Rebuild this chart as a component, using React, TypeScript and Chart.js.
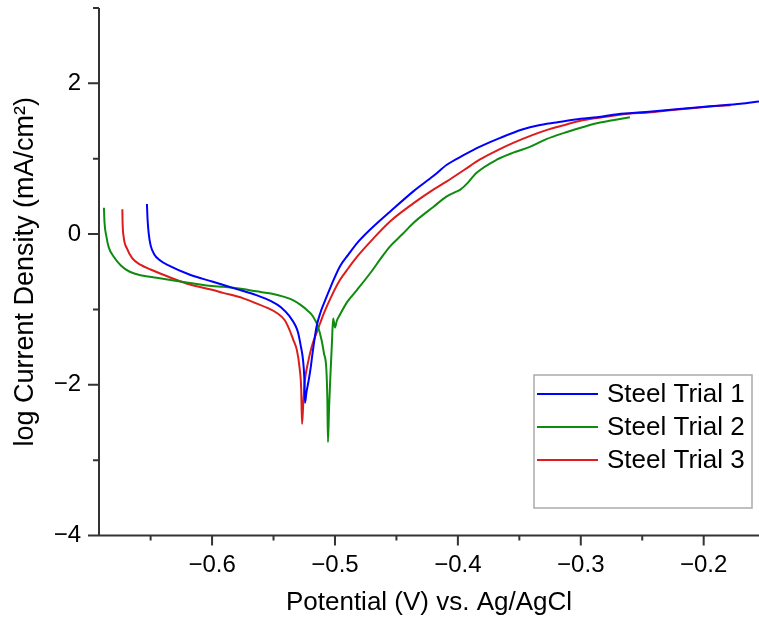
import React, { useEffect, useRef } from 'react';
import { Chart, registerables } from 'chart.js';

Chart.register(...registerables);

// ---------- data ----------
const seriesLabels = ['Steel Trial 1', 'Steel Trial 2', 'Steel Trial 3'];
const seriesColors = ['#0000ff', '#0f8c0f', '#dd1c1c'];

const trial1Potential = [
  -0.653, -0.6525, -0.6515, -0.65, -0.647, -0.643, -0.635, -0.618, -0.6, -0.58, -0.564, -0.552,
  -0.544, -0.537, -0.532, -0.53, -0.528, -0.526, -0.525, -0.5244, -0.5232, -0.5215, -0.52, -0.518,
  -0.515, -0.512, -0.509, -0.503, -0.496, -0.489, -0.482, -0.47, -0.455, -0.436, -0.42, -0.409,
  -0.395, -0.382, -0.365, -0.347, -0.335, -0.32, -0.3, -0.287, -0.27, -0.247, -0.22, -0.192, -0.17,
  -0.155,
];
const trial1LogI = [
  0.4, 0.2, 0.0, -0.15, -0.27, -0.34, -0.42, -0.54, -0.63, -0.73, -0.81, -0.89,
  -0.97, -1.09, -1.22, -1.31, -1.47, -1.67, -1.9, -2.24, -2.1, -1.95, -1.8, -1.55,
  -1.23, -1.05, -0.92, -0.68, -0.43, -0.27, -0.12, 0.08, 0.3, 0.57, 0.77, 0.92,
  1.05, 1.16, 1.28, 1.39, 1.44, 1.48, 1.53, 1.55, 1.59, 1.62, 1.66, 1.7, 1.73,
  1.76,
];

const trial2Potential = [
  -0.688, -0.6875, -0.686, -0.684, -0.68, -0.674, -0.667, -0.657, -0.645, -0.63, -0.618, -0.6,
  -0.591, -0.575, -0.564, -0.552, -0.542, -0.535, -0.528, -0.522, -0.518, -0.514, -0.511, -0.509,
  -0.507, -0.5062, -0.5057, -0.5048, -0.5035, -0.5025, -0.5015, -0.5, -0.4985, -0.496, -0.49,
  -0.482, -0.47, -0.463, -0.455, -0.445, -0.436, -0.42, -0.409, -0.403, -0.398, -0.392, -0.385,
  -0.368, -0.355, -0.341, -0.328, -0.314, -0.3, -0.287, -0.274, -0.26,
];
const trial2LogI = [
  0.35, 0.15, -0.03, -0.18, -0.3, -0.42, -0.5, -0.55, -0.58, -0.62, -0.65, -0.69,
  -0.7, -0.73, -0.76, -0.79, -0.83, -0.87, -0.94, -1.02, -1.09, -1.22, -1.4, -1.58,
  -1.8, -2.2, -2.76, -2.3, -1.8, -1.45, -1.12, -1.24, -1.15, -1.07, -0.9,
  -0.74, -0.49, -0.33, -0.16, 0.0, 0.15, 0.36, 0.5, 0.55, 0.59, 0.68, 0.81,
  0.99, 1.08, 1.16, 1.26, 1.34, 1.41, 1.47, 1.51, 1.55,
];

const trial3Potential = [
  -0.673, -0.6728, -0.672, -0.669, -0.665, -0.658, -0.65, -0.635, -0.618, -0.6, -0.591, -0.575,
  -0.564, -0.555, -0.547, -0.541, -0.537, -0.534, -0.531, -0.529, -0.5275, -0.5268, -0.5258,
  -0.5245, -0.522, -0.519, -0.515, -0.512, -0.509, -0.503, -0.496, -0.489, -0.482, -0.47, -0.455,
  -0.436, -0.42, -0.409, -0.395, -0.382, -0.368, -0.355, -0.34, -0.328, -0.315, -0.301, -0.287,
  -0.274, -0.26, -0.247, -0.23, -0.21, -0.19, -0.178,
];
const trial3LogI = [
  0.33, 0.15, -0.03, -0.2, -0.32, -0.41, -0.47, -0.57, -0.67, -0.74, -0.78, -0.85,
  -0.92, -0.98, -1.05, -1.14, -1.27, -1.4, -1.54, -1.75, -2.05, -2.52, -2.25,
  -1.95, -1.71, -1.5, -1.31, -1.18, -1.05, -0.83, -0.61, -0.45, -0.3, -0.08, 0.17,
  0.41, 0.59, 0.7, 0.85, 0.99, 1.11, 1.21, 1.31, 1.38, 1.44, 1.5, 1.54,
  1.57, 1.6, 1.61, 1.64, 1.67, 1.7, 1.71,
];

const xMin = -0.692;
const xMax = -0.155;
const yMin = -4;
const yMax = 3;
const xMajorTicks = [-0.6, -0.5, -0.4, -0.3, -0.2];
const xMinorTicks = [-0.65, -0.55, -0.45, -0.35, -0.25];
const yMajorTicks = [-4, -2, 0, 2];
const yMinorTicks = [-3, -1, 1, 3];
const xTitle = 'Potential (V) vs. Ag/AgCl';
const yTitle = 'log Current Density (mA/cm²)';

// ---------- styling ----------
const FONT = "'Liberation Sans', Arial, sans-serif";
const AXIS_COLOR = '#333333';

const fmtTick = (v: number, decimals: number) => {
  const s = Number(v).toFixed(decimals);
  return s.replace('-', '\u2212');
};

const toPoints = (xs: number[], ys: number[]) => xs.map((x, i) => ({ x, y: ys[i] }));

const originAxesPlugin = {
  id: 'originAxes',
  afterDatasetsDraw(chart: any) {
    const { ctx, chartArea, scales } = chart;
    const xs = scales.x;
    const ys = scales.y;
    ctx.save();
    ctx.strokeStyle = AXIS_COLOR;
    ctx.lineWidth = 2;
    ctx.beginPath();
    ctx.moveTo(chartArea.left, chartArea.top);
    ctx.lineTo(chartArea.left, chartArea.bottom);
    ctx.moveTo(chartArea.left - 1, chartArea.bottom);
    ctx.lineTo(chartArea.right, chartArea.bottom);
    yMajorTicks.forEach((v) => {
      const y = ys.getPixelForValue(v);
      ctx.moveTo(chartArea.left, y);
      ctx.lineTo(chartArea.left - 11, y);
    });
    yMinorTicks.forEach((v) => {
      const y = ys.getPixelForValue(v);
      ctx.moveTo(chartArea.left, y);
      ctx.lineTo(chartArea.left - 6, y);
    });
    xMajorTicks.forEach((v) => {
      const x = xs.getPixelForValue(v);
      ctx.moveTo(x, chartArea.bottom);
      ctx.lineTo(x, chartArea.bottom + 10);
    });
    xMinorTicks.forEach((v) => {
      const x = xs.getPixelForValue(v);
      ctx.moveTo(x, chartArea.bottom);
      ctx.lineTo(x, chartArea.bottom + 5);
    });
    ctx.stroke();
    ctx.restore();
  },
};

const boxLegendPlugin = {
  id: 'boxLegend',
  afterDraw(chart: any) {
    const { ctx, chartArea } = chart;
    const right = chartArea.right - 7;
    const bottom = chartArea.bottom - 27.5;
    const width = 218;
    const height = 133;
    const left = right - width;
    const top = bottom - height;
    ctx.save();
    ctx.fillStyle = '#ffffff';
    ctx.fillRect(left, top, width, height);
    ctx.strokeStyle = '#aaaaaa';
    ctx.lineWidth = 1.5;
    ctx.strokeRect(left, top, width, height);
    ctx.font = `26px ${FONT}`;
    ctx.textBaseline = 'middle';
    ctx.textAlign = 'left';
    chart.data.datasets.forEach((ds: any, i: number) => {
      const y = top + 19 + i * 33;
      ctx.strokeStyle = ds.borderColor;
      ctx.lineWidth = 2;
      ctx.beginPath();
      ctx.moveTo(left + 3, y);
      ctx.lineTo(left + 64, y);
      ctx.stroke();
      ctx.fillStyle = '#000000';
      ctx.fillText(ds.label, left + 73, y + 1);
    });
    ctx.restore();
  },
};

export default function App() {
  const canvasRef = useRef<HTMLCanvasElement | null>(null);

  useEffect(() => {
    document.body.style.margin = '0';
    document.body.style.overflow = 'hidden';
    const canvas = canvasRef.current;
    if (!canvas) return;
    const seriesX = [trial1Potential, trial2Potential, trial3Potential];
    const seriesY = [trial1LogI, trial2LogI, trial3LogI];
    const chart = new Chart(canvas, {
      type: 'line',
      data: {
        datasets: seriesLabels.map((label, i) => ({
          label,
          data: toPoints(seriesX[i], seriesY[i]),
          borderColor: seriesColors[i],
          backgroundColor: seriesColors[i],
          borderWidth: 2,
          pointRadius: 0,
          fill: false,
          cubicInterpolationMode: 'monotone' as const,
        })),
      },
      options: {
        animation: false,
        responsive: true,
        maintainAspectRatio: false,
        parsing: false as any,
        layout: { padding: { top: 8, right: 0, left: 0, bottom: 0 } },
        plugins: {
          legend: { display: false },
          tooltip: { enabled: false },
        },
        scales: {
          x: {
            type: 'linear',
            min: xMin,
            max: xMax,
            grid: { display: false, drawTicks: false },
            border: { display: false },
            ticks: {
              stepSize: 0.1,
              includeBounds: false,
              autoSkip: false,
              maxRotation: 0,
              padding: 15,
              color: '#000000',
              font: { family: FONT, size: 24 },
              callback: (v: any) => fmtTick(v, 1),
            },
            title: {
              display: true,
              text: xTitle,
              color: '#000000',
              font: { family: FONT, size: 26 },
              padding: { top: 0, bottom: 2 },
            },
            afterFit: (s: any) => {
              s.height = 84.5;
              s.paddingLeft = 0;
              s.paddingRight = 0;
            },
          },
          y: {
            type: 'linear',
            min: yMin,
            max: yMax,
            grid: { display: false, drawTicks: false },
            border: { display: false },
            ticks: {
              stepSize: 2,
              includeBounds: false,
              autoSkip: false,
              padding: 18,
              color: '#000000',
              font: { family: FONT, size: 24 },
              callback: (v: any) => fmtTick(v, 0),
            },
            title: {
              display: true,
              text: yTitle,
              color: '#000000',
              font: { family: FONT, size: 27 },
              padding: { top: 9, bottom: 0 },
            },
            afterFit: (s: any) => {
              s.width = 99;
              s.paddingTop = 0;
              s.paddingBottom = 0;
            },
          },
        },
      },
      plugins: [originAxesPlugin, boxLegendPlugin],
    });
    return () => chart.destroy();
  }, []);

  return (
    <div style={{ position: 'relative', width: 759, height: 620 }}>
      <canvas ref={canvasRef} />
    </div>
  );
}
